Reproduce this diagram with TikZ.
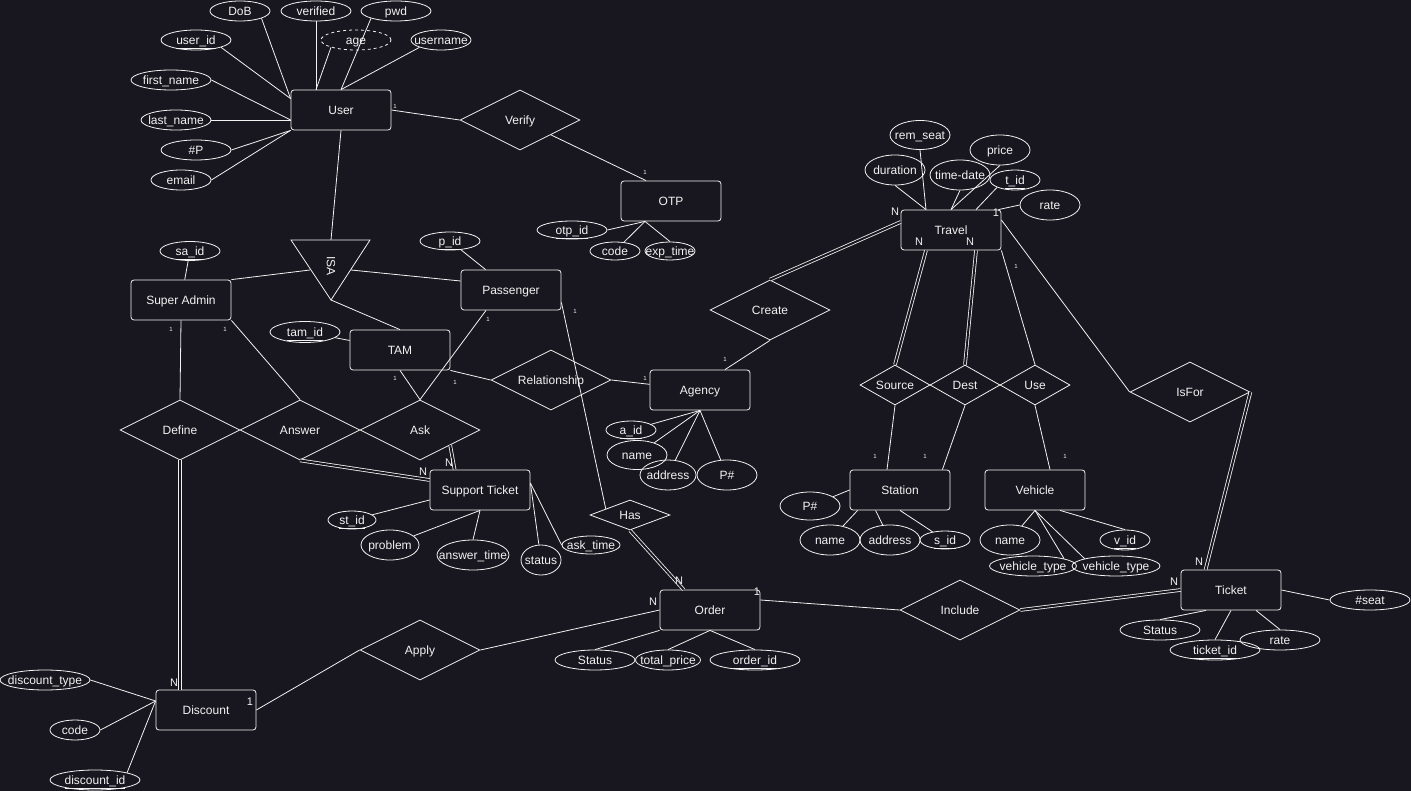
\documentclass[tikz,border=0pt]{standalone}
\usepackage{fontspec}
\setmainfont{Liberation Sans}
\usepackage{tikz}
\usetikzlibrary{shapes.geometric, calc}
\usepackage{xcolor}
\definecolor{bgDark}{HTML}{18171F}
\definecolor{lineWhite}{HTML}{F2F2F2}

\begin{document}
\begin{tikzpicture}[
      x=1pt, y=-1pt, color=lineWhite, line width=0.8pt,
      every node/.style={font=\fontsize{12}{14}\selectfont},
      entity/.style={draw, rounded corners=3pt, minimum width=100pt,
                     minimum height=40pt, inner sep=0pt,
                     text height=10pt, text depth=1.4pt},
      attr/.style={draw, ellipse, inner xsep=-30pt, inner ysep=0pt,
                   minimum height=20pt, text height=10pt, text depth=1.4pt},
      rel/.style={draw, diamond, aspect=2, inner sep=0pt,
                  minimum width=120pt, minimum height=60pt,
                  text height=10pt, text depth=1.4pt},
      small/.style={rel, minimum width=70pt, minimum height=40pt},
      total/.style={double=bgDark, double distance=2pt},
      one/.style={font=\fontsize{6}{7}\selectfont, inner sep=0pt},
      many/.style={font=\fontsize{11}{12}\selectfont, inner sep=0pt},
    ]
      \fill[bgDark] (0,0) rectangle (1411,791);
      \useasboundingbox (0,0) rectangle (1411,791);

      % User
      \node[entity] (user) at (341,110) {User};
      \node[attr, minimum width=60pt] (dob)       at (240,11)  {DoB};
      \node[attr, minimum width=70pt] (verified)  at (316,11)  {verified};
      \node[attr, minimum width=70pt] (pwd)       at (396,11)  {pwd};
      \node[attr, minimum width=70pt] (userid)    at (196,40)  {\underline{user\_id}};
      \node[attr, minimum width=70pt, dashed] (age) at (356,40) {age};
      \node[attr, minimum width=60pt] (username)  at (441,40)  {username};
      \node[attr, minimum width=80pt] (firstname) at (171,80)  {first\_name};
      \node[attr, minimum width=70pt] (lastname)  at (176,120) {last\_name};
      \node[attr, minimum width=70pt] (phonenum)  at (196,150) {\#P};
      \node[attr, minimum width=60pt] (email)     at (181,180) {email};
      \draw (dob.south east) -- ($(user.north west)+(0,9)$);
      \draw (userid.south east) -- ($(user.north west)+(0,9)$);
      \draw (verified) -- (verified |- user.north);
      \draw (age.south west) -- ($(user.north)+(-25,0)$);
      \draw (pwd.south west) -- (user.north);
      \draw (username.south west) -- (user.north);
      \draw (firstname.east) -- ($(user.west)+(0,10)$);
      \draw (lastname.east) -- ($(user.west)+(0,10)$);
      \draw (phonenum.east) -- (user.south west);
      \draw (email.east) -- (user.south west);

      % OTP
      \node[rel] (verify) at (520,120) {Verify};
      \node[entity] (otp) at (671,201) {OTP};
      \node[attr, minimum width=70pt, minimum height=18pt] (otpid) at (572,230) {\underline{otp\_id}};
      \node[attr, minimum width=50pt, minimum height=18pt] (code) at (615,251) {code};
      \node[attr, minimum width=50pt, minimum height=18pt] (exptime) at (670,251) {exp\_time};
      \draw (user.east) -- (verify.west);
      \draw (verify) -- ($(otp.north)+(-25,0)$);
      \draw (otpid.east) -- ($(otp.south)+(-26,0)$);
      \draw (code) -- ($(otp.south)+(-26,0)$);
      \draw (exptime.north) -- ($(otp.south)+(-26,0)$);

      % ISA
      \coordinate (isatl) at (291,240);
      \coordinate (isatr) at (370,240);
      \coordinate (isaap) at (331,300);
      \coordinate (isatop) at (331,240);
      \coordinate (isal) at (310,270);
      \coordinate (isar) at (351,270);
      \draw (isatl) -- (isatr) -- (isaap) -- cycle;
      \node[rotate=-90] (isa) at (331,266) {ISA};
      \node[entity] (sadmin) at (181,300) {Super Admin};
      \node[attr, minimum width=60pt, minimum height=19pt] (said) at (190,251) {\underline{sa\_id}};
      \node[entity] (passenger) at (511,290) {Passenger};
      \node[attr, minimum width=60pt, minimum height=18pt] (pid) at (450,241) {\underline{p\_id}};
      \node[entity] (tam) at (400,350) {TAM};
      \node[attr, minimum width=70pt, minimum height=21pt] (tamid) at (305,332) {\underline{tam\_id}};
      \draw (user.south) -- (isatop);
      \draw (isal) -- (sadmin.north east);
      \draw (isar) -- ($(passenger.west)+(0,-9)$);
      \draw (isaap) -- (tam.north);
      \draw (said) -- (sadmin);
      \draw (pid) -- (passenger);
      \draw (tamid) -- (tam);

      % Support Ticket
      \node[rel] (relship) at (551,380) {Relationship};
      \node[rel] (define) at (180,430) {Define};
      \node[rel] (answer) at (300,430) {Answer};
      \node[rel] (ask)    at (420,430) {Ask};
      \node[entity] (sticket) at (480,490) {Support Ticket};
      \node[attr, minimum width=48pt, minimum height=18pt] (stid) at (352,520) {\underline{st\_id}};
      \node[attr, minimum width=58pt, minimum height=30pt] (problem) at (390,545) {problem};
      \node[attr, minimum width=72pt, minimum height=30pt] (answertime) at (473,555) {answer\_time};
      \node[attr, minimum width=40pt, minimum height=30pt] (ststatus) at (541,560) {status};
      \node[attr, minimum width=58pt, minimum height=18pt] (asktime) at (591,545) {ask\_time};
      \draw (tam.south east) -- (relship.west);
      \draw ($(passenger.south)+(-25,0)$) -- (ask.north);
      \draw (tam.south) -- (ask.north);
      \draw (sadmin.south) -- (define.north);
      \draw (sadmin.south east) -- (answer.north);
      \draw[total] (answer.south) -- ($(sticket.west)+(0,-10)$);
      \draw[total] ($(ask.east)!0.5!(ask.south)$) -- ($(sticket.north west)+(25,0)$);
      \draw (stid) -- ($(sticket.west)+(0,10)$);
      \draw (problem) -- (sticket.south);
      \draw (answertime.north) -- (sticket.south);
      \draw (ststatus) -- ($(sticket.east)+(0,-7)$);
      \draw (asktime.west) -- ($(sticket.east)+(0,-7)$);

      % Agency
      \node[entity] (agency) at (700,390) {Agency};
      \node[rel] (create) at (770,310) {Create};
      \node[attr, minimum width=50pt, minimum height=18pt] (aid) at (631,430) {\underline{a\_id}};
      \node[attr, minimum width=60pt, minimum height=29pt] (aname) at (637,455) {name};
      \node[attr, minimum width=56pt, minimum height=30pt] (aaddress) at (668,475) {address};
      \node[attr, minimum width=60pt, minimum height=30pt] (aphone) at (727,475) {P\#};
      \draw (relship.east) -- (agency);
      \draw (create.south) -- ($(agency.north)+(25,0)$);
      \draw (aid) -- (agency.south);
      \draw (aname) -- (agency.south);
      \draw (aaddress) -- (agency.south);
      \draw (aphone) -- (agency.south);

      % Travel
      \node[entity] (travel) at (951,230) {Travel};
      \node[attr, minimum width=60pt, minimum height=29pt] (remseat) at (920,135) {rem\_seat};
      \node[attr, minimum width=60pt, minimum height=30pt] (duration) at (895,170) {duration};
      \node[attr, minimum width=60pt, minimum height=30pt] (timedate) at (960,175) {time-date};
      \node[attr, minimum width=60pt, minimum height=30pt] (price) at (1000,150) {price};
      \node[attr, minimum width=50pt] (tid) at (1015,180) {\underline{t\_id}};
      \node[attr, minimum width=60pt, minimum height=30pt] (trate) at (1050,205) {rate};
      \draw[total] (create.north) -- ($(travel.west)+(0,-8)$);
      \draw (remseat.south) -- ($(travel.north)+(-25,0)$);
      \draw (duration.south) -- ($(travel.north)+(-25,0)$);
      \draw (timedate.south) -- (travel.north);
      \draw (price.south) -- (travel.north);
      \draw (tid.south west) -- ($(travel.north)+(25,0)$);
      \draw (trate.west) -- ($(travel.north east)+(-3,0)$);

      % Station, Vehicle
      \node[small] (source) at (895,385) {Source};
      \node[small] (dest)   at (965,385) {Dest};
      \node[small] (uses)   at (1035,385) {Use};
      \node[entity] (station) at (900,490) {Station};
      \node[attr, minimum width=60pt, minimum height=28pt] (sphone) at (810,506) {P\#};
      \node[attr, minimum width=60pt, minimum height=30pt] (sname) at (830,540) {name};
      \node[attr, minimum width=60pt, minimum height=30pt] (saddress) at (890,540) {address};
      \node[attr, minimum width=50pt, minimum height=18pt] (sid) at (945,540) {\underline{s\_id}};
      \node[entity] (vehicle) at (1035,490) {Vehicle};
      \node[attr, minimum width=60pt, minimum height=30pt] (vname) at (1010,540) {name};
      \node[attr, minimum width=50pt] (vid) at (1125,540) {\underline{v\_id}};
      \node[attr, minimum width=87pt] (vtypea) at (1033,566) {vehicle\_type};
      \node[attr, minimum width=88pt] (vtypeb) at (1116,566) {vehicle\_type};
      \draw[total] ($(travel.south)+(-25,0)$) -- (source.north);
      \draw[total] ($(travel.south)+(25,0)$) -- (dest.north);
      \draw (travel.south east) -- (uses.north);
      \draw (source.south) -- ($(station.north)+(-13,0)$);
      \draw (dest.south) -- ($(station.north east)+(-8,0)$);
      \draw (uses.south) -- ($(vehicle.north)+(15,0)$);
      \draw (sphone) -- (station.west);
      \draw (sname) -- ($(station.south west)+(8,0)$);
      \draw (saddress) -- ($(station.south west)+(26,0)$);
      \draw (sid) -- (station.south);
      \draw (vname) -- (vehicle.south);
      \draw (vid.north) -- ($(vehicle.south)+(25,0)$);
      \draw (vtypea.north east) -- (vehicle.south);
      \draw (vtypeb.north west) -- (vehicle.south);

      % Order, Ticket
      \node[rel, minimum width=80pt, minimum height=30pt] (has) at (630,515) {Has};
      \node[entity] (order) at (710,610) {Order};
      \node[attr, minimum width=80pt] (ostatus) at (595,660) {Status};
      \node[attr, minimum width=65pt] (totalprice) at (668,660) {total\_price};
      \node[attr, minimum width=90pt] (orderid) at (755,660) {\underline{order\_id}};
      \node[rel] (include) at (960,610) {Include};
      \node[rel] (isfor) at (1190,392) {IsFor};
      \node[entity] (ticket) at (1231,590) {Ticket};
      \node[attr, minimum width=80pt] (seat) at (1370,600) {\#seat};
      \node[attr, minimum width=80pt] (tstatus) at (1160,630) {Status};
      \node[attr, minimum width=90pt] (ticketid) at (1215,650) {\underline{ticket\_id}};
      \node[attr, minimum width=80pt] (tkrate) at (1280,640) {rate};
      \draw ($(passenger.south east)+(0,-8)$) -- ($(has.west)!0.4!(has.north)$);
      \draw[total] (has.south) -- ($(order.north west)+(24,0)$);
      \draw (ostatus.north) -- (order.south west);
      \draw (totalprice.north) -- (order.south);
      \draw (orderid.north) -- (order.south);
      \draw ($(order.east)+(0,-10)$) -- (include.west);
      \draw[total] (include.east) -- (ticket.west);
      \draw ($(travel.east)+(0,-10)$) -- (isfor.west);
      \draw[total] (isfor.east) -- ($(ticket.north west)+(25,0)$);
      \draw (ticket.east) -- (seat.west);
      \draw (tstatus.north) -- ($(ticket.south)+(-25,0)$);
      \draw (ticketid.north) -- (ticket.south);
      \draw (tkrate.north) -- ($(ticket.south)+(25,0)$);

      % Discount
      \node[rel] (apply) at (420,650) {Apply};
      \node[entity] (discount) at (206,710) {Discount};
      \node[attr, minimum width=90pt] (dtype) at (45,680) {discount\_type};
      \node[attr, minimum width=50pt] (dcode) at (75,730) {code};
      \node[attr, minimum width=90pt] (did) at (95,780) {\underline{discount\_id}};
      \draw[total] (define.south) -- (define.south |- discount.north);
      \draw (order.west) -- (apply.east);
      \draw (apply.west) -- (discount.east);
      \draw (dtype.east) -- ($(discount.west)+(0,-9)$);
      \draw (dcode.east) -- ($(discount.west)+(0,-9)$);
      \draw (did.north east) -- ($(discount.west)+(0,-9)$);

      % cardinalities
      \node[one] (cverify) at (395,106) {1};
      \node[one] (cotp) at (645,172) {1};
      \node[one] (cdefine) at (171,329) {1};
      \node[one] (canswer) at (225,329) {1};
      \node[one] (cpask) at (488,319) {1};
      \node[one] (cphas) at (575,311) {1};
      \node[one] (ctask) at (395,378) {1};
      \node[one] (ctrel) at (455,382) {1};
      \node[one] (carel) at (645,378) {1};
      \node[one] (cacreate) at (725,359) {1};
      \node[one] (cuse) at (1016,266) {1};
      \node[one] (csource) at (875,456) {1};
      \node[one] (cdest) at (925,456) {1};
      \node[one] (cvehicle) at (1065,456) {1};
      \node[many] (ctravel) at (996,213) {1};
      \node[many] (corder) at (757,592) {1};
      \node[many] (cdiscount) at (250,702) {1};
      \node[many] (ntcreate) at (895,212) {N};
      \node[many] (ntsource) at (919,242) {N};
      \node[many] (ntdest) at (970,242) {N};
      \node[many] (nsanswer) at (423,472) {N};
      \node[many] (nsask) at (449,463) {N};
      \node[many] (nddefine) at (174,683) {N};
      \node[many] (noapply) at (653,602) {N};
      \node[many] (nohas) at (679,581) {N};
      \node[many] (ntisfor) at (1199,562) {N};
      \node[many] (ntinclude) at (1174,582) {N};
    \end{tikzpicture}
\end{document}
